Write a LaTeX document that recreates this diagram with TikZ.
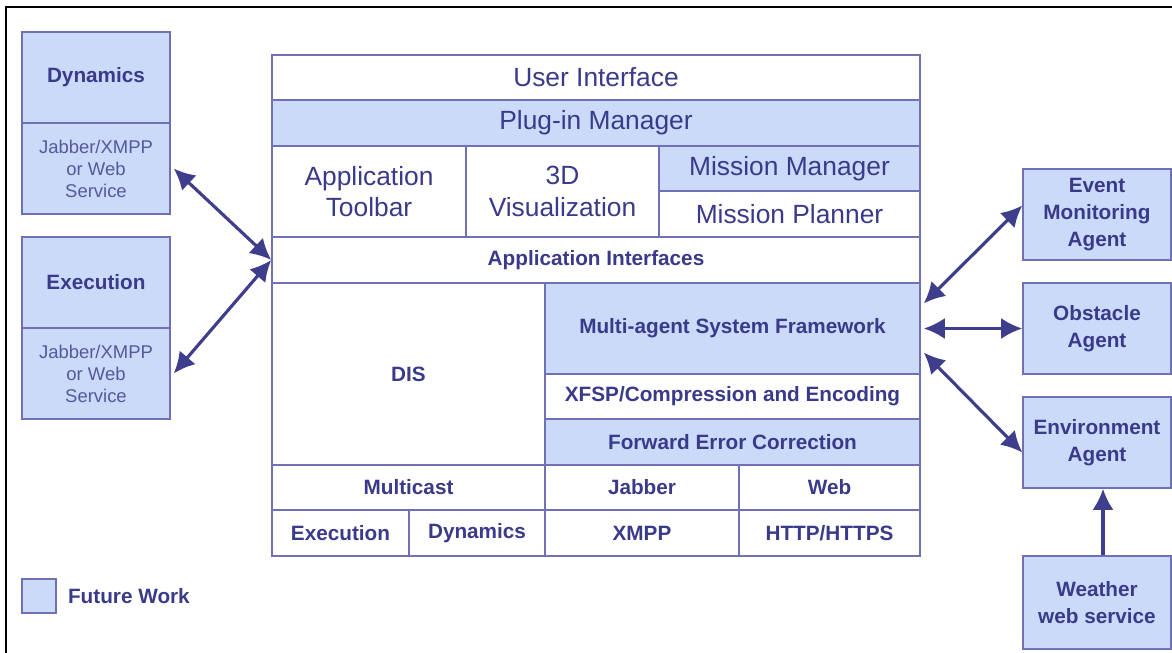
\documentclass[tikz,border=0pt]{standalone}
\usepackage{fontspec}
\setmainfont{Liberation Sans}
\usetikzlibrary{arrows.meta,calc,positioning}
\definecolor{futurefill}{RGB}{204,218,250}
\definecolor{edge}{RGB}{112,112,180}
\definecolor{ink}{RGB}{58,58,138}
\definecolor{linkcol}{RGB}{62,62,140}
% one rectangular cell, given by its corners in pixels
\newcommand\layercell[7]{%
	\node[#1, minimum width={(#5-#3)*0.02cm}, minimum height={(#6-#4)*0.02cm}] (#2) at ({(#3+#5)/2},{(#4+#6)/2}) {#7};}

\begin{document}
\begin{tikzpicture}[x=0.02cm, y=-0.02cm,
		cell/.style={draw=edge, line width=0.8pt, text=ink, align=center, inner sep=0pt},
		plain/.style={cell, fill=white},
		future/.style={cell, fill=futurefill},
		bigtext/.style={font=\fontsize{15}{18.1}\selectfont},
		boldtext/.style={font=\bfseries\fontsize{11.8}{15.3}\selectfont, text=ink, inner sep=0pt},
		lighttext/.style={font=\fontsize{10.5}{12.5}\selectfont, text=ink!85},
		link/.style={draw=linkcol, line width=1.8pt, {Latex[length=12pt,width=12pt]}-{Latex[length=12pt,width=12pt]}},
		feed/.style={draw=linkcol, line width=1.8pt, -{Latex[length=12pt,width=12pt]}}]
		\useasboundingbox (0,0) rectangle (1172,652);
		\draw[line width=1.2pt] (6,7) rectangle (1200,680);
		% main stack
		\layercell{plain,bigtext}{ui}{272}{55}{920}{100}{User Interface}
		\layercell{future,bigtext}{plugin}{272}{100}{920}{146}{Plug-in Manager}
		\layercell{plain,bigtext}{toolbar}{272}{146}{466}{237}{Application\\Toolbar}
		\layercell{plain,bigtext}{vis}{466}{146}{659}{237}{3D\\Visualization}
		\layercell{future,bigtext}{missman}{659}{146}{920}{191}{Mission Manager}
		\layercell{plain,bigtext}{missplan}{659}{191}{920}{237}{Mission Planner}
		\layercell{plain,boldtext}{appif}{272}{237}{920}{283}{Application Interfaces}
		\layercell{plain,boldtext}{dis}{272}{283}{545}{465}{DIS}
		\layercell{future,boldtext}{masf}{545}{283}{920}{374}{Multi-agent System Framework}
		\layercell{plain,boldtext}{xfsp}{545}{374}{920}{419}{XFSP/Compression and Encoding}
		\layercell{future,boldtext}{fec}{545}{419}{920}{465}{Forward Error Correction}
		% transport rows
		\layercell{plain,boldtext}{multicast}{272}{465}{545}{510}{Multicast}
		\layercell{plain,boldtext}{jabber}{545}{465}{739}{510}{Jabber}
		\layercell{plain,boldtext}{web}{739}{465}{920}{510}{Web}
		\layercell{plain,boldtext}{execproto}{272}{510}{409}{556}{Execution}
		\layercell{plain,boldtext}{dynproto}{409}{510}{545}{556}{Dynamics}
		\layercell{plain,boldtext}{xmpp}{545}{510}{739}{556}{XMPP}
		\layercell{plain,boldtext}{http}{739}{510}{920}{556}{HTTP/HTTPS}
		% simulation services on the left
		\layercell{future,boldtext}{dyn}{22}{32}{170}{123}{Dynamics}
		\layercell{future,lighttext}{dynlink}{22}{123}{170}{214}{Jabber/XMPP\\or Web\\Service}
		\layercell{future,boldtext}{exec}{22}{237}{170}{328}{Execution}
		\layercell{future,lighttext}{execlink}{22}{328}{170}{419}{Jabber/XMPP\\or Web\\Service}
		% agents on the right
		\layercell{future,boldtext}{event}{1023}{169}{1171}{260}{Event\\Monitoring\\Agent}
		\layercell{future,boldtext}{obstacle}{1023}{283}{1171}{374}{Obstacle\\Agent}
		\layercell{future,boldtext}{envir}{1023}{397}{1171}{488}{Environment\\Agent}
		\layercell{future,boldtext}{weather}{1023}{556}{1171}{649}{Weather\\web service}
		% legend
		\layercell{future}{legend}{22}{579}{56}{613}{}
		\node[boldtext, right=0.22cm of legend] (legendtext) {Future Work};
		% links
		\draw[link] ($(dynlink.east)+(3,0)$) -- (appif.west);
		\draw[link] ($(execlink.east)+(3,0)$) -- (appif.west);
		\draw[link] ($(masf.east)+(3,-25)$) -- ($(event.west)+(0,-9)$);
		\draw[link] ($(masf.east)+(3,0)$) -- (obstacle.west);
		\draw[link] ($(masf.east)+(3,24)$) -- ($(envir.west)+(0,10)$);
		\draw[feed] ($(weather.north)+(6,0)$) -- ($(envir.south)+(6,0)$);
\end{tikzpicture}
\end{document}
